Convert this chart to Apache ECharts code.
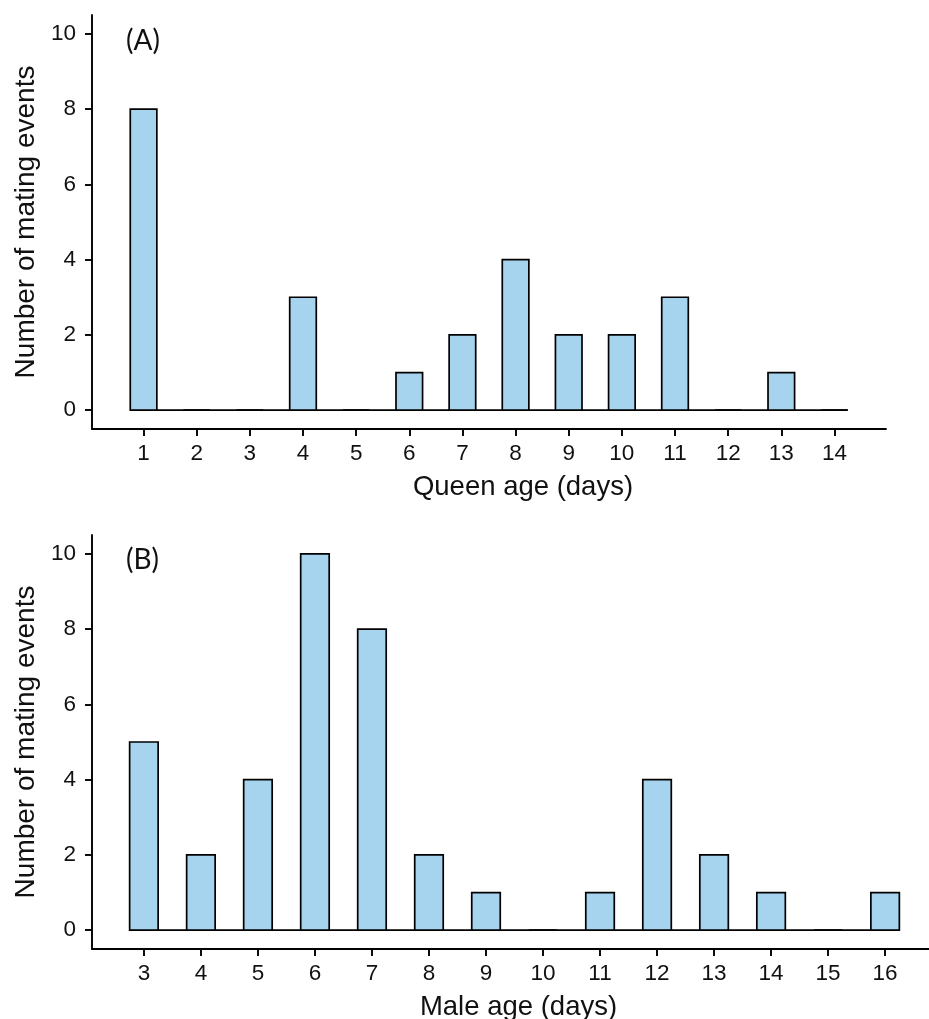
<!DOCTYPE html>
<html>
<head>
<meta charset="utf-8">
<script src="https://cdn.jsdelivr.net/npm/echarts@6/dist/echarts.min.js"></script>
<style>
html,body{margin:0;padding:0;background:#fff;}
#chart{width:929px;height:1019px;}
</style>
</head>
<body>
<div id="chart"></div>
<script>
// Panel A: queen age
const queenAges = [1,2,3,4,5,6,7,8,9,10,11,12,13,14];
const queenCounts = [8,0,0,3,0,1,2,4,2,2,3,0,1,0];
// Panel B: male age
const maleAges = [3,4,5,6,7,8,9,10,11,12,13,14,15,16];
const maleCounts = [5,2,4,10,8,2,1,0,1,4,2,1,0,1];
// Y tick labels
const yTicks = [0,2,4,6,8,10];

const FONT = '"Liberation Sans", Arial, sans-serif';
const BAR_COLOR = '#A6D4EE';
const BAR_W = 0.5;

function barItem(params, api) {
  const x = api.value(0), y = api.value(1);
  const p0 = api.coord([x - BAR_W / 2, y]);
  const p1 = api.coord([x + BAR_W / 2, 0]);
  return {
    type: 'rect',
    shape: {x: p0[0], y: p0[1], width: p1[0] - p0[0], height: p1[1] - p0[1]},
    style: {fill: BAR_COLOR, stroke: '#000', lineWidth: 1.7}
  };
}

function yAxis(idx) {
  return {
    type: 'value', gridIndex: idx, min: -0.5, max: 10.5,
    name: 'Number of mating events', nameLocation: 'middle', nameGap: 48,
    nameTextStyle: {fontFamily: FONT, fontSize: 28, color: '#111'},
    axisLine: {show: true, lineStyle: {color: '#000', width: 1.9}},
    axisTick: {show: true, length: 7, customValues: yTicks, lineStyle: {color: '#000', width: 1.9}},
    axisLabel: {customValues: yTicks, fontFamily: FONT, fontSize: 22.5, color: '#111', margin: 16},
    splitLine: {show: false}
  };
}

function xAxis(idx, cats, min, max, name, pad) {
  return {
    type: 'value', gridIndex: idx, min: min, max: max,
    name: name, nameLocation: 'middle', nameGap: 44,
    nameTextStyle: {fontFamily: FONT, fontSize: 27.5, color: '#111', padding: pad},
    axisLine: {show: true, onZero: false, lineStyle: {color: '#000', width: 1.9}},
    axisTick: {show: true, length: 7, customValues: cats, lineStyle: {color: '#000', width: 1.9}},
    axisLabel: {customValues: cats, fontFamily: FONT, fontSize: 22.5, color: '#111', margin: 13},
    splitLine: {show: false}
  };
}

function zeroLine(cats) {
  return [[cats[0] - BAR_W / 2, 0], [cats[cats.length - 1] + BAR_W / 2, 0]];
}

const panelTitleStyle = {fontFamily: 'Lato, "Open Sans", sans-serif', fontWeight: 'normal', fontSize: 28, color: '#111'};

const option = {
  animation: false,
  backgroundColor: '#fff',
  title: [
    {text: '(A)', left: 121, top: 22, textStyle: panelTitleStyle},
    {text: '(B)', left: 121, top: 541, textStyle: panelTitleStyle}
  ],
  grid: [
    {left: 92, width: 794, top: 15, height: 414, outerBoundsMode: 'none', containLabel: false},
    {left: 92, width: 845, top: 535, height: 414, outerBoundsMode: 'none', containLabel: false}
  ],
  xAxis: [
    xAxis(0, queenAges, 0.03, 14.97, 'Queen age (days)', [0, 0, 0, 68]),
    xAxis(1, maleAges, 2.09, 16.91, 'Male age (days)', [0, 0, 0, 8])
  ],
  yAxis: [yAxis(0), yAxis(1)],
  series: [
    {type: 'line', xAxisIndex: 0, yAxisIndex: 0, data: zeroLine(queenAges), symbol: 'none',
     lineStyle: {color: '#000', width: 1.7}, z: 1},
    {type: 'custom', xAxisIndex: 0, yAxisIndex: 0, renderItem: barItem,
     data: queenAges.map((a, i) => [a, queenCounts[i]]), z: 2},
    {type: 'line', xAxisIndex: 1, yAxisIndex: 1, data: zeroLine(maleAges), symbol: 'none',
     lineStyle: {color: '#000', width: 1.7}, z: 1},
    {type: 'custom', xAxisIndex: 1, yAxisIndex: 1, renderItem: barItem,
     data: maleAges.map((a, i) => [a, maleCounts[i]]), z: 2}
  ]
};

const chart = echarts.init(document.getElementById('chart'), null, {renderer: 'canvas'});
chart.setOption(option);
</script>
</body>
</html>
